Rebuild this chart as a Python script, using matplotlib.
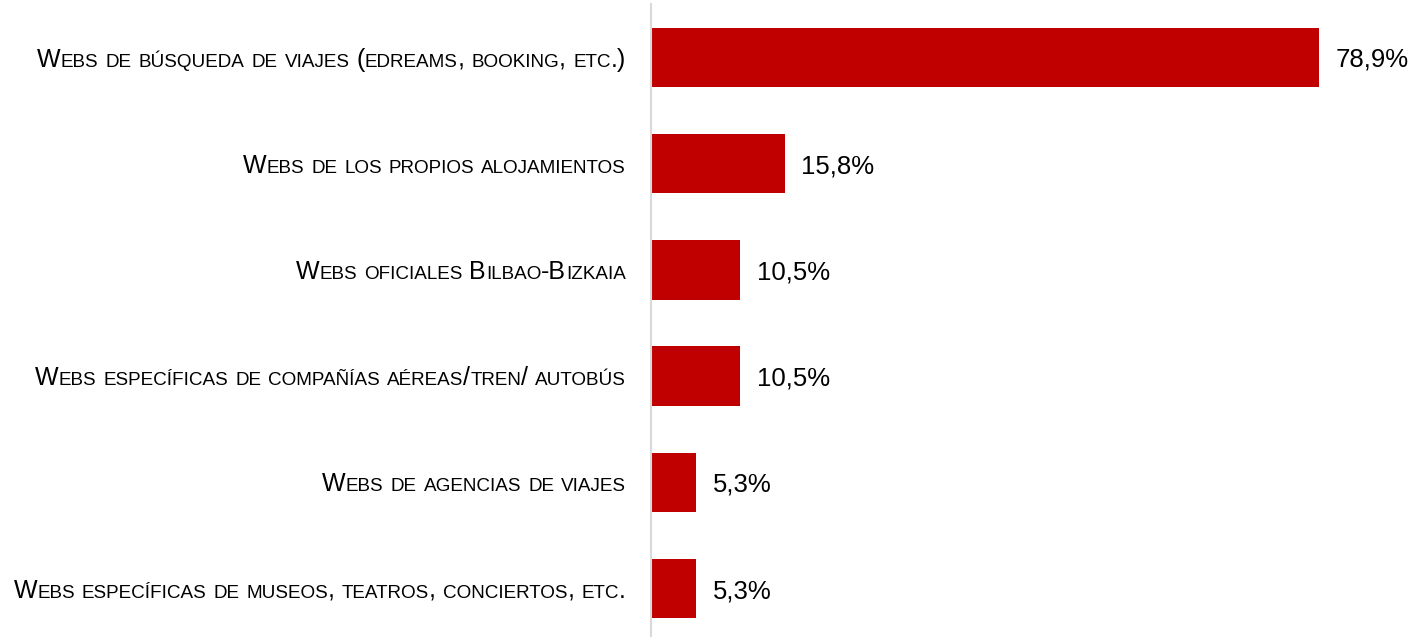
import matplotlib
matplotlib.use('Agg')
import matplotlib.pyplot as plt
from matplotlib.transforms import offset_copy, blended_transform_factory

CATEGORIES = [
    'Webs de búsqueda de viajes (edreams, booking, etc.)',
    'Webs de los propios alojamientos',
    'Webs oficiales Bilbao-Bizkaia',
    'Webs específicas de compañías aéreas/tren/ autobús',
    'Webs de agencias de viajes',
    'Webs específicas de museos, teatros, conciertos, etc.',
]
VALUES = [78.9, 15.8, 10.5, 10.5, 5.3, 5.3]
VALUE_LABELS = ['78,9%', '15,8%', '10,5%', '10,5%', '5,3%', '5,3%']

BAR_COLOR = '#c00000'
LABEL_FONT = 'Liberation Sans'
BIG_SIZE = 18
SMALL_SIZE = 13.6


def split_runs(text):
    # group chars into runs: (full size?, chunk)
    runs = []
    for ch in text:
        big = not ch.islower()
        if runs and runs[-1][0] == big:
            runs[-1][1] += ch
        else:
            runs.append([big, ch])
    return runs


def small_caps_label(ax, fig, renderer, y, text, x_px=-25):
    base = blended_transform_factory(ax.transAxes, ax.transData)
    offset = x_px * 72 / fig.dpi
    for big, chunk in reversed(split_runs(text)):
        size = BIG_SIZE if big else SMALL_SIZE
        tr = offset_copy(base, fig=fig, x=offset, y=-6.5, units='points')
        t = ax.text(0, y, chunk.upper(), transform=tr, ha='right', va='baseline',
                    fontsize=size, family=LABEL_FONT, color='black')
        w = t.get_window_extent(renderer).width
        offset -= w * 72 / fig.dpi


fig = plt.figure(figsize=(14.17, 6.37), dpi=100)
# category pitch ~106 px, first bar centre at y=57.5 px
ax = fig.add_axes([651 / 1417, 1 - 641.6 / 637, 1 - 651 / 1417, 637.2 / 637])

y = list(range(len(CATEGORIES)))
ax.barh(y, VALUES, height=0.56, color=BAR_COLOR)
ax.set_ylim(len(CATEGORIES) - 0.5, -0.5)
ax.set_xlim(0, 78.9 * (1417 - 651) / (1319 - 651))

for i, (v, lab) in enumerate(zip(VALUES, VALUE_LABELS)):
    ax.annotate(lab, (v, i), xytext=(12, 0), textcoords='offset points',
                va='center_baseline', ha='left', fontsize=18.5, family='Liberation Sans')

for s in ['top', 'right', 'bottom']:
    ax.spines[s].set_visible(False)
ax.spines['left'].set_color('#d9d9d9')
ax.spines['left'].set_linewidth(1.5)
ax.set_xticks([])
ax.set_yticks([])

fig.canvas.draw()
renderer = fig.canvas.get_renderer()
for i, cat in enumerate(CATEGORIES):
    small_caps_label(ax, fig, renderer, i, cat)

plt.savefig('out.png', dpi=100)
